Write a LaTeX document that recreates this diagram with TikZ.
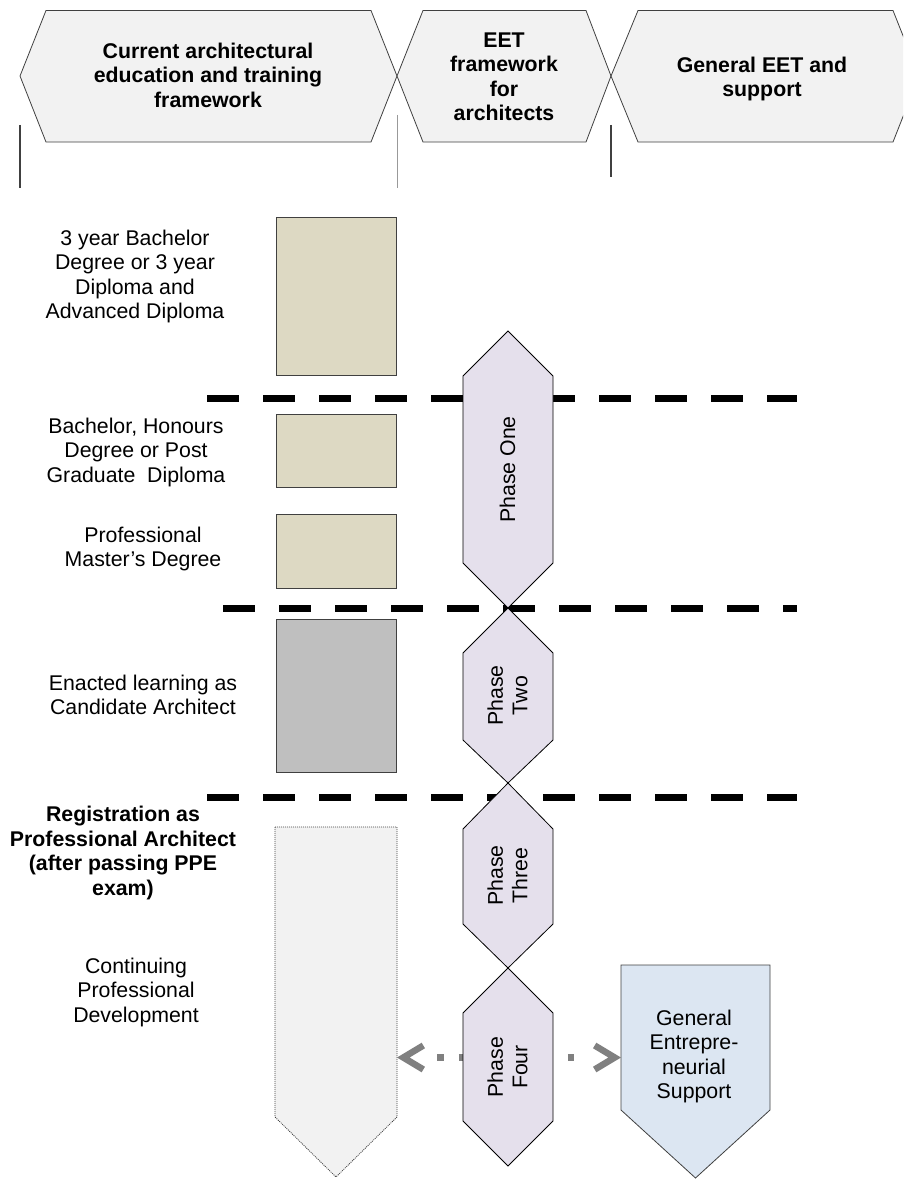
\documentclass[tikz,border=0pt]{standalone}
\usepackage{fontspec}
\setmainfont{Liberation Sans}
\usetikzlibrary{arrows.meta}
\definecolor{hdrfill}{HTML}{F2F2F2}
\definecolor{tanfill}{HTML}{DDD9C3}
\definecolor{grayfill}{HTML}{BFBFBF}
\definecolor{lavfill}{HTML}{E5E0EC}
\definecolor{bluefill}{HTML}{DCE6F2}
\definecolor{cpdfill}{HTML}{F2F2F2}
\definecolor{edgecol}{HTML}{404040}
\definecolor{arrowgray}{HTML}{808080}
\begin{document}
\begin{tikzpicture}[x=1pt,y=-1pt,
  txt/.style={font={\fontsize{21.3pt}{24.5pt}\selectfont}, align=center, inner sep=0pt, anchor=north},
  btxt/.style={font={\fontsize{21.3pt}{24.5pt}\selectfont\bfseries}, align=center, inner sep=0pt, anchor=north},
  ptxt/.style={font={\fontsize{21.3pt}{24.5pt}\selectfont}, align=center, inner sep=0pt, anchor=center, rotate=90},
  hdr/.style={fill=hdrfill, draw=edgecol, line width=0.8pt},
  stagebox/.style={draw=edgecol, line width=1.3pt, inner sep=0pt, anchor=north west},
  phase/.style={fill=lavfill, draw=black, line width=0.8pt},
  dline/.style={draw=black, line width=7pt, dash pattern=on 32pt off 24pt},
  tick/.style={draw=edgecol, line width=1.5pt},
  linkheads/.style={draw=arrowgray, line width=6.5pt, dash pattern=on 0pt off 2000pt,
    arrows={Straight Barb[length=20pt,width=24pt]-Straight Barb[length=20pt,width=24pt]}},
  linkdots/.style={draw=arrowgray, line width=6.5pt, dash pattern=on 6.5pt off 15.3pt,
    shorten <=40pt, shorten >=46.7pt}
]
\useasboundingbox (0,0) rectangle (903,1180);
\clip (0,0) rectangle (903,1180);

% header chevrons
\draw[hdr] (20,76) -- (46,10.5) -- (371,10.5) -- (397,76) -- (371,142) -- (46,142) -- cycle;
\draw[hdr] (397,76) -- (423,10.5) -- (586,10.5) -- (611,76) -- (586,142) -- (423,142) -- cycle;
\draw[hdr] (611,76) -- (638,10.5) -- (893,10.5) -- (919,76) -- (893,142) -- (638,142) -- cycle;

\node[btxt] (h1) at (208,40.85) {\strut Current architectural\\education and training\\framework};
\node[btxt] (h2) at (504,29.85) {\strut EET\\framework\\for\\architects};
\node[btxt] (h3) at (762,54.85) {\strut General EET and\\support};

% header ticks
\draw[tick] (20,125) -- (20,188);
\draw[draw=gray!80, line width=0.8pt] (397,115) -- (397,188);
\draw[tick] (611,125) -- (611,177);

% dashed separators
\draw[dline] (207,398) -- (797,398);
\draw[dline] (223,608) -- (797,608);
\draw[dline] (207,797) -- (797,797);

% stage boxes
\node[stagebox, fill=tanfill, minimum width=120pt, minimum height=158pt] (s1) at (276,217) {};
\node[stagebox, fill=tanfill, minimum width=120pt, minimum height=73pt] (s2) at (275.5,414) {};
\node[stagebox, fill=tanfill, minimum width=120pt, minimum height=74pt] (s3) at (275.5,514) {};
\node[stagebox, fill=grayfill, minimum width=120.5pt, minimum height=153pt] (s4) at (275.5,619) {};

% CPD pentagon
\draw[fill=cpdfill, draw=black!75, line width=0.8pt, dash pattern=on 1pt off 1pt]
  (275,827) -- (397,827) -- (397,1117) -- (336,1177) -- (275,1117) -- cycle;
\coordinate (cpdE) at (397,1057.5);

% general entrepreneurial support pentagon
\draw[fill=bluefill, draw=edgecol, line width=0.8pt]
  (621,965) -- (770,965) -- (770,1110) -- (695.5,1178) -- (621,1110) -- cycle;
\coordinate (gesW) at (621,1057.5);

% dotted double arrow
\draw[linkdots] (cpdE) -- (gesW);
\draw[linkheads] (cpdE) -- (gesW);

% phases
\draw[phase] (508,331) -- (553,376) -- (553,563) -- (508,608) -- (463,563) -- (463,376) -- cycle;
\draw[phase] (508,608) -- (553,653) -- (553,740) -- (508,783) -- (463,740) -- (463,653) -- cycle;
\draw[phase] (508,783) -- (553,829) -- (553,924) -- (508,968) -- (463,924) -- (463,829) -- cycle;
\draw[phase] (508,968) -- (553,1013) -- (553,1121) -- (508,1166) -- (463,1121) -- (463,1013) -- cycle;

\node[ptxt] (p1) at (507.5,469.5) {Phase One};
\node[ptxt] (p2) at (507.5,695.5) {Phase\\Two};
\node[ptxt] (p3) at (507.5,875.5) {Phase\\Three};
\node[ptxt] (p4) at (507.5,1067) {Phase\\Four};

% left labels
\node[txt] (l1) at (135,227.85) {\strut 3 year Bachelor\\Degree or 3 year\\Diploma and\\Advanced Diploma};
\node[txt] (l2) at (136,415.85) {\strut Bachelor, Honours\\Degree or Post\\Graduate\ \ Diploma};
\node[txt] (l3) at (143,524.85) {\strut Professional\\Master’s Degree};
\node[txt] (l4) at (143,672.85) {\strut Enacted learning as\\Candidate Architect};
\node[btxt] (l5) at (123,804.6) {\strut Registration as\\Professional Architect\\(after passing PPE\\exam)};
\node[txt] (l6) at (136,955.85) {\strut Continuing\\Professional\\Development};

\node[txt] (g1) at (694,1007.85) {\strut General\\Entrepre-\\neurial\\Support};
\end{tikzpicture}
\end{document}
